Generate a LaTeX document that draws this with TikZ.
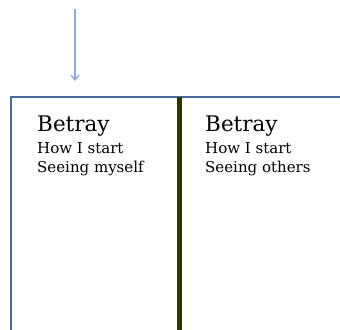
\documentclass[tikz,border=0pt]{standalone}
\usepackage{fontspec}
\setmainfont{DejaVu Serif}
\usetikzlibrary{arrows.meta}
\definecolor{framebl}{RGB}{70,106,158}
\definecolor{arrowbl}{RGB}{140,172,212}
\definecolor{olivedk}{RGB}{45,52,0}
\tikzset{
  headtxt/.style={anchor=base west,inner sep=0pt,font=\fontsize{21.5bp}{23bp}\selectfont},
  bodytxt/.style={anchor=base west,inner sep=0pt,align=left,font=\fontsize{15bp}{19bp}\selectfont},
}
\begin{document}
\begin{tikzpicture}[>={Straight Barb[length=5bp,width=8bp]},line join=bevel,]
\useasboundingbox (0bp,0bp) rectangle (340bp,330bp);
%%
\coordinate (arr_top) at (75bp,321bp);
  \coordinate (arr_end) at (75bp,249bp);
  \coordinate (frame_tl) at (11bp,233bp);
  \coordinate (frame_bl) at (11bp,0bp);
  \coordinate (frame_tr) at (340bp,233bp);
  \coordinate (mid_top) at (179bp,233bp);
  \coordinate (mid_bot) at (179bp,0bp);
  \node (head_1) at (37bp,198.5bp) [headtxt] {Betray};
  \node (body_1) at (37bp,157bp) [bodytxt] {How I start\\Seeing myself};
  \node (head_2) at (205bp,198.5bp) [headtxt] {Betray};
  \node (body_2) at (205bp,157bp) [bodytxt] {How I start\\Seeing others};
  \draw [arrowbl,line width=1.3bp,->] (arr_top) -- (arr_end);
  \draw [framebl,line width=2bp] (frame_bl) -- (frame_tl) -- (frame_tr);
  \draw [olivedk,line width=5bp] (mid_top) -- (mid_bot);
%
\end{tikzpicture}
\end{document}
